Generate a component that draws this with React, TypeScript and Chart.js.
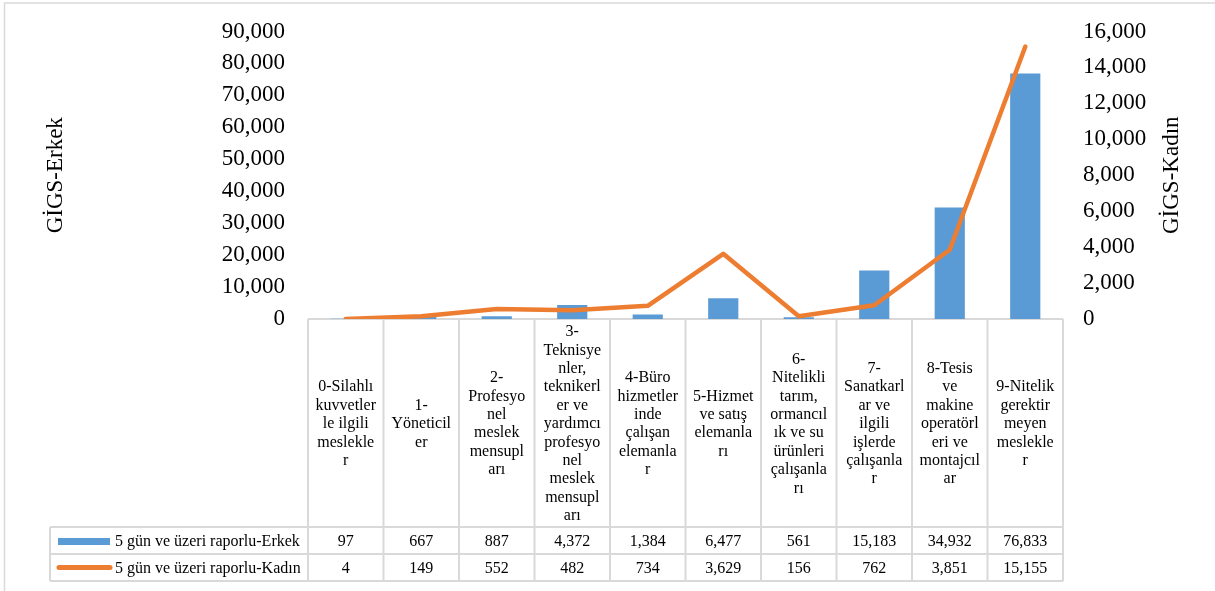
import React, { useEffect, useRef } from "react";
import { Chart, registerables } from "chart.js";

Chart.register(...registerables);

// ---- data ----
const categories: string[][] = [
  ["0-Silahlı", "kuvvetler", "le ilgili", "meslekle", "r"],
  ["1-", "Yöneticil", "er"],
  ["2-", "Profesyo", "nel", "meslek", "mensupl", "arı"],
  ["3-", "Teknisye", "nler,", "teknikerl", "er ve", "yardımcı", "profesyo", "nel", "meslek", "mensupl", "arı"],
  ["4-Büro", "hizmetler", "inde", "çalışan", "elemanla", "r"],
  ["5-Hizmet", "ve satış", "elemanla", "rı"],
  ["6-", "Nitelikli", "tarım,", "ormancıl", "ık ve su", "ürünleri", "çalışanla", "rı"],
  ["7-", "Sanatkarl", "ar ve", "ilgili", "işlerde", "çalışanla", "r"],
  ["8-Tesis", "ve", "makine", "operatörl", "eri ve", "montajcıl", "ar"],
  ["9-Nitelik", "gerektir", "meyen", "meslekle", "r"],
];
const erkekValues = [97, 667, 887, 4372, 1384, 6477, 561, 15183, 34932, 76833];
const kadinValues = [4, 149, 552, 482, 734, 3629, 156, 762, 3851, 15155];
const erkekLabel = "5 gün ve üzeri raporlu-Erkek";
const kadinLabel = "5 gün ve üzeri raporlu-Kadın";
const leftAxisTitle = "GİGS-Erkek";
const rightAxisTitle = "GİGS-Kadın";
const leftMax = 90000;
const leftStep = 10000;
const rightMax = 16000;
const rightStep = 2000;

// ---- styles ----
const FONT = '"Liberation Serif", "Times New Roman", serif';
const BLUE = "#5B9BD5";
const ORANGE = "#ED7D31";
const GRID = "#D9D9D9";
const TEXT = "#000000";

const fmt = (v: number) => Number(v).toLocaleString("en-US");

const tablePlugin = {
  id: "dataTable",
  beforeDraw(chart: any) {
    const { ctx } = chart;
    ctx.save();
    ctx.strokeStyle = GRID;
    ctx.lineWidth = 1.5;
    ctx.beginPath();
    ctx.moveTo(4.5, 600);
    ctx.lineTo(4.5, 3);
    ctx.lineTo(1220, 3);
    ctx.stroke();
    ctx.restore();
  },
  beforeDatasetsDraw(chart: any) {
    const { ctx } = chart;
    const xs = chart.scales.x;
    const n = categories.length;
    const left = xs.left;
    const right = xs.right;
    const colW = (right - left) / n;
    const top = chart.chartArea.bottom;
    const headerBottom = top + 208;
    const rowH = 27;
    const row1 = headerBottom + rowH;
    const row2 = row1 + rowH;
    const legendLeft = 50;

    ctx.save();
    ctx.strokeStyle = GRID;
    ctx.lineWidth = 2;
    ctx.beginPath();
    ctx.moveTo(left, top);
    ctx.lineTo(right, top);
    [headerBottom, row1, row2].forEach((y) => {
      ctx.moveTo(legendLeft, y);
      ctx.lineTo(right, y);
    });
    for (let i = 0; i <= n; i++) {
      const x = left + i * colW;
      ctx.moveTo(x, top);
      ctx.lineTo(x, row2);
    }
    ctx.moveTo(legendLeft, headerBottom);
    ctx.lineTo(legendLeft, row2);
    ctx.stroke();

    ctx.fillStyle = TEXT;
    ctx.font = `16px ${FONT}`;
    ctx.textAlign = "center";
    ctx.textBaseline = "middle";
    const lh = 18.4;
    const midH = (top + headerBottom) / 2 + 1;
    categories.forEach((lines, i) => {
      const cx = xs.getPixelForValue(i);
      const startY = midH - ((lines.length - 1) * lh) / 2;
      lines.forEach((ln, j) => ctx.fillText(ln, cx, startY + j * lh));
    });
    const r1 = (headerBottom + row1) / 2 + 1;
    const r2 = (row1 + row2) / 2 + 1;
    erkekValues.forEach((v, i) => ctx.fillText(fmt(v), xs.getPixelForValue(i), r1));
    kadinValues.forEach((v, i) => ctx.fillText(fmt(v), xs.getPixelForValue(i), r2));

    ctx.fillStyle = BLUE;
    ctx.fillRect(58, r1 - 3.5, 52, 7);
    ctx.strokeStyle = ORANGE;
    ctx.lineWidth = 5;
    ctx.lineCap = "round";
    ctx.beginPath();
    ctx.moveTo(59, r2 - 1);
    ctx.lineTo(110, r2 - 1);
    ctx.stroke();
    ctx.fillStyle = TEXT;
    ctx.textAlign = "left";
    ctx.fillText(erkekLabel, 115, r1);
    ctx.fillText(kadinLabel, 115, r2);
    ctx.restore();
  },
  afterDraw(chart: any) {
    const { ctx, chartArea } = chart;
    ctx.save();
    ctx.fillStyle = TEXT;
    ctx.font = `23px ${FONT}`;
    ctx.textAlign = "center";
    ctx.textBaseline = "middle";
    ctx.translate(1172, (chartArea.top + chartArea.bottom) / 2);
    ctx.rotate(-Math.PI / 2);
    ctx.fillText(rightAxisTitle, 0, 0);
    ctx.restore();
  },
};

export default function App() {
  const ref = useRef<HTMLCanvasElement | null>(null);

  useEffect(() => {
    if (!ref.current) return;
    const chart = new Chart(ref.current, {
      type: "bar",
      data: {
        labels: categories,
        datasets: [
          {
            type: "line",
            label: kadinLabel,
            data: kadinValues,
            yAxisID: "y1",
            borderColor: ORANGE,
            backgroundColor: ORANGE,
            borderWidth: 4.5,
            pointRadius: 0,
            tension: 0,
            borderCapStyle: "round",
            borderJoinStyle: "round",
            order: 0,
          } as any,
          {
            type: "bar",
            label: erkekLabel,
            data: erkekValues,
            yAxisID: "y",
            backgroundColor: BLUE,
            barPercentage: 0.4,
            categoryPercentage: 1,
            order: 1,
          },
        ],
      },
      options: {
        responsive: false,
        animation: false,
        layout: { padding: { top: 31.5, bottom: 272, left: 0, right: 0 } },
        plugins: { legend: { display: false }, tooltip: { enabled: false } },
        scales: {
          x: { display: false },
          y: {
            position: "left",
            min: 0,
            max: leftMax,
            grid: { display: false, drawTicks: false },
            border: { display: false },
            ticks: {
              stepSize: leftStep,
              padding: 23,
              color: TEXT,
              font: { family: FONT, size: 23 },
              callback: (v: any) => fmt(v),
            },
            title: {
              display: true,
              text: leftAxisTitle,
              color: TEXT,
              font: { family: FONT, size: 23 },
              padding: { top: 42, bottom: 0 },
            },
            afterFit: (s: any) => {
              s.width = 308;
              s.paddingTop = 0;
              s.paddingBottom = 0;
            },
          },
          y1: {
            position: "right",
            min: 0,
            max: rightMax,
            grid: { display: false, drawTicks: false },
            border: { display: false },
            ticks: {
              stepSize: rightStep,
              padding: 20,
              color: TEXT,
              font: { family: FONT, size: 23 },
              callback: (v: any) => fmt(v),
            },
            afterFit: (s: any) => {
              s.width = 152;
              s.paddingTop = 0;
              s.paddingBottom = 0;
            },
          },
        },
      } as any,
      plugins: [tablePlugin],
    });
    return () => chart.destroy();
  }, []);

  return (
    <div style={{ position: "fixed", left: 0, top: 0, width: 1215, height: 591, background: "#fff" }}>
      <canvas ref={ref} width={1215} height={591} />
    </div>
  );
}
